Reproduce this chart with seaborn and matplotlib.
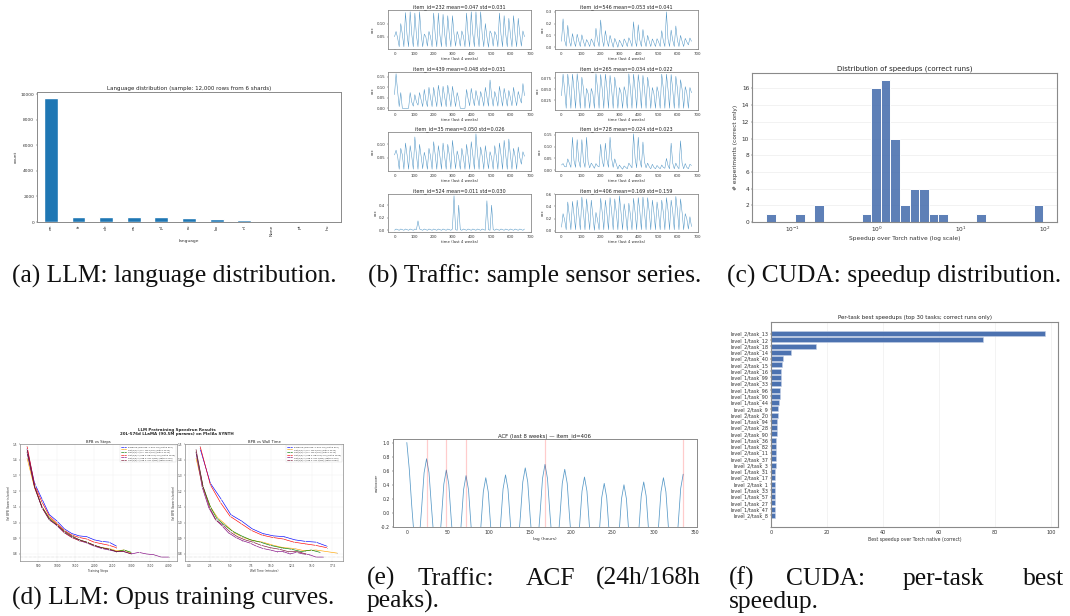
import numpy as np
import pandas as pd
import matplotlib
matplotlib.use('Agg')
import matplotlib.pyplot as plt
import seaborn as sns

W, H = 1070, 616
BAR_BLUE = '#1f77b4'
DEEP_BLUE = '#4c72b0'
SPINE = '#8a8a8a'
SERIF = 'Liberation Serif'

# (a) language distribution
languages = ['en', 'fr', 'de', 'es', 'pl', 'ru', 'ko', 'nl', 'None', 'pt', 'hu']
lang_counts = [9680, 420, 410, 360, 355, 340, 200, 170, 5, 4, 3]

# (b) sensor series: three readings per day for the last 4 weeks
sensor_titles = ['item_id=232 mean=0.047 std=0.031', 'item_id=546 mean=0.053 std=0.041',
                 'item_id=439 mean=0.048 std=0.031', 'item_id=265 mean=0.034 std=0.022',
                 'item_id=35 mean=0.050 std=0.026', 'item_id=728 mean=0.024 std=0.023',
                 'item_id=524 mean=0.011 std=0.030', 'item_id=406 mean=0.169 std=0.159']
sensor_232 = [0.050, 0.070, 0.045, 0.012, 0.100, 0.060, 0.012, 0.142, 0.058, 0.012, 0.145, 0.060,
              0.012, 0.140, 0.055, 0.012, 0.145, 0.060, 0.012, 0.060, 0.050, 0.014, 0.070, 0.050,
              0.012, 0.140, 0.058, 0.012, 0.140, 0.056, 0.012, 0.135, 0.062, 0.012, 0.130, 0.058,
              0.012, 0.130, 0.060, 0.014, 0.070, 0.050, 0.014, 0.072, 0.052, 0.012, 0.140, 0.058,
              0.012, 0.145, 0.060, 0.012, 0.145, 0.062, 0.012, 0.145, 0.058, 0.012, 0.100, 0.050,
              0.010, 0.072, 0.060, 0.014, 0.070, 0.055, 0.012, 0.140, 0.058, 0.012, 0.130, 0.060,
              0.012, 0.120, 0.058, 0.012, 0.130, 0.056, 0.012, 0.120, 0.060, 0.014, 0.072, 0.050]
sensor_546 = [0.050, 0.240, 0.060, 0.008, 0.185, 0.055, 0.008, 0.115, 0.050, 0.006, 0.110, 0.055,
              0.006, 0.105, 0.050, 0.006, 0.065, 0.040, 0.006, 0.070, 0.045, 0.006, 0.160, 0.060,
              0.006, 0.230, 0.070, 0.006, 0.140, 0.060, 0.006, 0.100, 0.050, 0.000, 0.075, 0.040,
              0.000, 0.060, 0.035, 0.004, 0.070, 0.045, 0.006, 0.080, 0.050, 0.006, 0.215, 0.060,
              0.006, 0.190, 0.060, 0.006, 0.150, 0.055, 0.006, 0.100, 0.050, 0.006, 0.070, 0.040,
              0.006, 0.072, 0.045, 0.006, 0.140, 0.055, 0.006, 0.300, 0.070, 0.006, 0.145, 0.060,
              0.006, 0.180, 0.060, 0.006, 0.100, 0.050, 0.006, 0.075, 0.045, 0.020, 0.078, 0.050]
sensor_439 = [0.065, 0.165, 0.080, 0.008, 0.075, 0.000, 0.000, 0.000, 0.000, 0.000, 0.075, 0.030,
              0.010, 0.065, 0.030, 0.015, 0.075, 0.040, 0.008, 0.090, 0.040, 0.008, 0.100, 0.050,
              0.008, 0.100, 0.050, 0.008, 0.110, 0.060, 0.008, 0.105, 0.055, 0.008, 0.110, 0.060,
              0.008, 0.105, 0.055, 0.008, 0.075, 0.045, 0.000, 0.000, 0.000, 0.000, 0.090, 0.045,
              0.012, 0.095, 0.050, 0.012, 0.085, 0.050, 0.012, 0.080, 0.050, 0.010, 0.100, 0.055,
              0.010, 0.135, 0.060, 0.010, 0.080, 0.050, 0.010, 0.105, 0.055, 0.010, 0.095, 0.055,
              0.010, 0.085, 0.050, 0.012, 0.100, 0.050, 0.012, 0.080, 0.050, 0.025, 0.118, 0.060]
sensor_265 = [0.035, 0.085, 0.048, 0.006, 0.085, 0.052, 0.006, 0.085, 0.050, 0.006, 0.086, 0.054,
              0.006, 0.078, 0.052, 0.006, 0.052, 0.040, 0.006, 0.052, 0.040, 0.006, 0.086, 0.052,
              0.006, 0.084, 0.050, 0.006, 0.085, 0.054, 0.006, 0.082, 0.050, 0.006, 0.078, 0.050,
              0.006, 0.054, 0.042, 0.006, 0.056, 0.042, 0.006, 0.086, 0.052, 0.006, 0.085, 0.050,
              0.006, 0.084, 0.054, 0.006, 0.082, 0.050, 0.006, 0.078, 0.052, 0.006, 0.054, 0.040,
              0.006, 0.056, 0.040, 0.006, 0.085, 0.052, 0.006, 0.085, 0.050, 0.006, 0.084, 0.050,
              0.006, 0.080, 0.052, 0.006, 0.072, 0.050, 0.006, 0.056, 0.042, 0.006, 0.054, 0.042]
sensor_35 = [0.060, 0.078, 0.055, 0.006, 0.085, 0.060, 0.006, 0.105, 0.060, 0.006, 0.095, 0.055,
             0.006, 0.128, 0.060, 0.006, 0.100, 0.055, 0.008, 0.070, 0.045, 0.006, 0.085, 0.055,
             0.006, 0.110, 0.060, 0.006, 0.095, 0.055, 0.006, 0.105, 0.055, 0.006, 0.100, 0.060,
             0.006, 0.115, 0.060, 0.008, 0.075, 0.050, 0.006, 0.085, 0.050, 0.006, 0.100, 0.055,
             0.006, 0.110, 0.060, 0.006, 0.140, 0.065, 0.006, 0.090, 0.055, 0.006, 0.095, 0.050,
             0.008, 0.072, 0.050, 0.006, 0.095, 0.055, 0.006, 0.105, 0.060, 0.006, 0.115, 0.060,
             0.006, 0.120, 0.060, 0.006, 0.085, 0.055, 0.006, 0.090, 0.050, 0.025, 0.072, 0.055]
sensor_728 = [0.022, 0.028, 0.015, 0.014, 0.048, 0.030, 0.012, 0.140, 0.040, 0.012, 0.130, 0.040,
              0.012, 0.130, 0.040, 0.012, 0.140, 0.035, 0.010, 0.030, 0.020, 0.008, 0.028, 0.018,
              0.014, 0.110, 0.040, 0.014, 0.115, 0.045, 0.012, 0.140, 0.050, 0.012, 0.048, 0.025,
              0.005, 0.022, 0.012, 0.004, 0.018, 0.012, 0.006, 0.030, 0.020, 0.010, 0.155, 0.050,
              0.010, 0.140, 0.045, 0.012, 0.120, 0.035, 0.010, 0.030, 0.015, 0.006, 0.025, 0.012,
              0.006, 0.020, 0.012, 0.006, 0.022, 0.012, 0.008, 0.050, 0.020, 0.006, 0.115, 0.030,
              0.006, 0.030, 0.015, 0.006, 0.125, 0.030, 0.006, 0.028, 0.012, 0.006, 0.025, 0.020]
sensor_524 = [0.000, 0.020, 0.010, 0.000, 0.020, 0.010, 0.000, 0.020, 0.010, 0.000, 0.020, 0.010,
              0.000, 0.020, 0.010, 0.150, 0.020, 0.010, 0.000, 0.020, 0.010, 0.000, 0.020, 0.010,
              0.000, 0.020, 0.010, 0.000, 0.020, 0.010, 0.000, 0.020, 0.010, 0.000, 0.020, 0.010,
              0.000, 0.020, 0.550, 0.010, 0.000, 0.400, 0.010, 0.000, 0.020, 0.010, 0.000, 0.020,
              0.010, 0.000, 0.020, 0.010, 0.000, 0.020, 0.010, 0.000, 0.020, 0.010, 0.000, 0.470,
              0.010, 0.000, 0.400, 0.010, 0.000, 0.020, 0.010, 0.000, 0.020, 0.010, 0.000, 0.020,
              0.010, 0.000, 0.020, 0.010, 0.000, 0.020, 0.010, 0.000, 0.020, 0.010, 0.000, 0.020]
sensor_406 = [0.060, 0.280, 0.180, 0.020, 0.470, 0.250, 0.020, 0.480, 0.260, 0.020, 0.500, 0.280,
              0.020, 0.550, 0.300, 0.020, 0.520, 0.280, 0.020, 0.500, 0.260, 0.010, 0.300, 0.180,
              0.020, 0.530, 0.300, 0.020, 0.500, 0.280, 0.020, 0.540, 0.320, 0.020, 0.520, 0.300,
              0.020, 0.570, 0.300, 0.020, 0.440, 0.260, 0.010, 0.450, 0.260, 0.020, 0.530, 0.300,
              0.020, 0.540, 0.320, 0.020, 0.550, 0.300, 0.020, 0.540, 0.320, 0.020, 0.500, 0.300,
              0.020, 0.470, 0.280, 0.020, 0.500, 0.300, 0.020, 0.540, 0.340, 0.020, 0.500, 0.320,
              0.020, 0.560, 0.340, 0.020, 0.520, 0.300, 0.020, 0.280, 0.200, 0.030, 0.230, 0.070]
sensor_series = [sensor_232, sensor_546, sensor_439, sensor_265,
                 sensor_35, sensor_728, sensor_524, sensor_406]
sensor_yticks = [[0.05, 0.10], [0.0, 0.1, 0.2, 0.3], [0.00, 0.05, 0.10, 0.15],
                 [0.025, 0.050, 0.075], [0.05, 0.10], [0.00, 0.05, 0.10, 0.15],
                 [0.0, 0.2, 0.4], [0.0, 0.2, 0.4, 0.6]]
sensor_fmt = ['%.2f', '%.1f', '%.2f', '%.3f', '%.2f', '%.2f', '%.1f', '%.1f']

# (c) histogram of speedups, counts per log bin
speedup_counts = [1, 0, 0, 1, 0, 2, 0, 0, 0, 0, 1, 16, 17, 10, 2, 4, 4, 1, 1,
                  0, 0, 0, 1, 0, 0, 0, 0, 0, 2]

# (d) training curves
steps = [200, 400, 600, 800, 1000, 1200, 1400, 1600, 1800, 2000, 2200, 2400, 2600,
         2800, 3000, 3200, 3400, 3600, 3800, 4000]
run_labels = ['Baseline (Ordered, 4, 5e2 Tie) (batch 500)',
              'Opt(1/1)+ (e 1, cos 1/2m) (batch 4012)',
              'Opt(1/1)+ (e 1, cos 1/2m) (batch 4112)',
              'Opt(1/2)+ (cap 4, 8R4 0.8/1.0) (batch 1800)',
              'Opt(1/2)+ (cap 4, cos 1/6m) (batch 2770)',
              'Opt(1/2)+ (cap 4, cos 1/6m) (batch 2500)']
run_colors = ['blue', 'orange', 'green', 'red', 'purple', '#7a1030']
bpb_baseline = [1.470, 1.250, 1.150, 1.050, 1.010, 0.960, 0.930, 0.915, 0.910, 0.890, 0.880, 0.875, 0.850]
bpb_orange = [1.410, 1.220, 1.100, 1.030, 0.990, 0.935, 0.905, 0.885, 0.875, 0.855, 0.840, 0.835, 0.820, 0.825, 0.805]
bpb_green = [1.450, 1.230, 1.100, 1.025, 0.985, 0.945, 0.915, 0.890, 0.875, 0.855, 0.840, 0.830, 0.815, 0.825, 0.810]
bpb_red = [1.485, 1.240, 1.130, 1.040, 0.995, 0.950, 0.920, 0.905, 0.895, 0.875, 0.865, 0.855, 0.840]
bpb_purple = [1.445, 1.225, 1.095, 1.020, 0.980, 0.935, 0.905, 0.885, 0.870, 0.850, 0.835, 0.825, 0.815, 0.815,
              0.800, 0.810, 0.800, 0.795, 0.780, 0.780]
bpb_brown = [1.465, 1.230, 1.095, 1.015, 0.985, 0.940, 0.910, 0.890, 0.875, 0.855, 0.840, 0.830, 0.815, 0.815, 0.800]
run_bpb = [bpb_baseline, bpb_orange, bpb_green, bpb_red, bpb_purple, bpb_brown]
wall_baseline = [1.35, 2.6, 3.9, 5.1, 6.4, 7.7, 9.0, 10.3, 11.6, 12.9, 14.2, 15.5, 16.8]
wall_orange = [0.85, 1.7, 2.6, 3.5, 4.4, 5.5, 6.6, 7.8, 9.0, 10.3, 11.5, 12.8, 14.1, 15.5, 18.1]
wall_green = [0.85, 1.7, 2.6, 3.4, 4.3, 5.3, 6.4, 7.5, 8.7, 9.9, 11.2, 12.5, 13.7, 14.9, 16.0]
wall_red = [1.35, 2.6, 3.8, 5.0, 6.3, 7.6, 8.9, 10.2, 11.5, 12.8, 14.1, 15.4, 16.8]
wall_purple = [0.85, 1.6, 2.4, 3.2, 4.0, 4.8, 5.7, 6.5, 7.4, 8.2, 9.0, 9.9, 10.7, 11.5, 12.3, 13.1, 13.9, 14.7, 15.5, 16.4]
wall_brown = [0.85, 1.7, 2.5, 3.3, 4.1, 5.0, 5.9, 6.8, 7.8, 8.8, 9.9, 11.0, 12.1, 13.2, 14.3]
run_wall = [wall_baseline, wall_orange, wall_green, wall_red, wall_purple, wall_brown]

# (e) autocorrelation every 3 hours
acf_values = [1.00, 0.62, 0.10, -0.35, -0.60, -0.40, 0.07, 0.57, 0.77,
              0.57, 0.08, -0.38, -0.70, -0.55, -0.09, 0.41, 0.61,
              0.41, -0.09, -0.55, -0.80, -0.62, -0.17, 0.33, 0.53,
              0.33, -0.17, -0.62, -0.85, -0.65, -0.20, 0.30, 0.50,
              0.30, -0.20, -0.65, -0.85, -0.61, -0.16, 0.34, 0.54,
              0.34, -0.16, -0.61, -0.75, -0.51, -0.06, 0.44, 0.64,
              0.44, -0.06, -0.51, -0.70, -0.46, -0.01, 0.49, 0.69,
              0.49, -0.01, -0.46, -0.75, -0.53, -0.08, 0.42, 0.62,
              0.42, -0.08, -0.53, -0.85, -0.64, -0.19, 0.31, 0.51,
              0.31, -0.19, -0.64, -0.93, -0.73, -0.28, 0.22, 0.42,
              0.22, -0.28, -0.73, -0.95, -0.75, -0.30, 0.20, 0.40,
              0.20, -0.30, -0.75, -0.90, -0.71, -0.26, 0.24, 0.44,
              0.24, -0.26, -0.71, -0.85, -0.65, -0.20, 0.30, 0.50,
              0.30, -0.20, -0.65, -0.80, -0.60, -0.15, 0.35, 0.55]
acf_marks = [24, 48, 72, 168, 336]

# (f) best speedup per task
task_names = ['level_2/task_13', 'level_1/task_12', 'level_2/task_18', 'level_2/task_14', 'level_2/task_40',
              'level_2/task_15', 'level_2/task_16', 'level_1/task_99', 'level_2/task_33', 'level_1/task_96',
              'level_1/task_90', 'level_1/task_44', 'level_2/task_9', 'level_2/task_20', 'level_1/task_94',
              'level_2/task_28', 'level_2/task_90', 'level_1/task_36', 'level_1/task_82', 'level_2/task_11',
              'level_2/task_37', 'level_2/task_3', 'level_1/task_31', 'level_2/task_17', 'level_2/task_1',
              'level_1/task_33', 'level_1/task_57', 'level_1/task_27', 'level_1/task_47', 'level_2/task_8']
task_speedups = [97.6, 75.6, 16.0, 7.0, 4.3, 3.8, 3.6, 3.5, 3.5, 3.1, 3.1, 2.9, 2.6, 2.5, 2.1,
                 2.0, 2.0, 1.9, 1.9, 1.8, 1.8, 1.7, 1.6, 1.5, 1.5, 1.5, 1.4, 1.4, 1.4, 1.3]

sns.set_theme(style='white')
plt.rcParams['font.family'] = ['DejaVu Sans']
fig = plt.figure(figsize=(W / 100, H / 100), dpi=100, facecolor='white')


def panel(left, top, right, bottom, tick=3.0, lw=0.7):
    # axes placed by pixel box of the reference
    ax = fig.add_axes([left / W, 1 - bottom / H, (right - left) / W, (bottom - top) / H])
    for s in ax.spines.values():
        s.set_color(SPINE)
        s.set_linewidth(lw)
    ax.tick_params(labelsize=tick, length=1, width=0.3, pad=1, colors='#333333',
                   bottom=True, left=True)
    return ax


def caption(x, y, text, ha='left'):
    fig.text(x / W, 1 - y / H, text, family=SERIF, fontsize=18.4, color='#111111', ha=ha, va='baseline')


# --- (a) ---
ax = panel(37, 92, 341, 222, tick=3.2)
sns.barplot(x=languages, y=lang_counts, color=BAR_BLUE, saturation=1, width=0.5, ax=ax)
ax.set_xlim(-0.5, 10.5)
ax.set_yticks([0, 2000, 4000, 6000, 8000, 10000])
ax.tick_params(axis='x', labelrotation=90)
ax.set_title('Language distribution (sample: 12,000 rows from 6 shards)', fontsize=4.0, pad=1.5, color='#222222')
ax.set_xlabel('language', fontsize=3.2, labelpad=2, color='#333333')
ax.set_ylabel('count', fontsize=3.2, labelpad=2, color='#333333')

# --- (b) ---
col_x = [(388, 531), (555, 698)]
row_y = [(10, 49), (72, 110), (132, 171), (194, 232)]
hours = np.linspace(0, 671, 84)
for i, values in enumerate(sensor_series):
    left, right = col_x[i % 2]
    top, bottom = row_y[i // 2]
    ax = panel(left, top, right, bottom, tick=2.8, lw=0.6)
    sns.lineplot(x=hours, y=values, color=BAR_BLUE, lw=0.35, alpha=0.8, ax=ax)
    ax.set_xticks(range(0, 701, 100))
    ax.set_xlim(-33.55, 704.55)
    ax.set_yticks(sensor_yticks[i])
    ax.yaxis.set_major_formatter(plt.FormatStrFormatter(sensor_fmt[i]))
    ax.set_title(sensor_titles[i], fontsize=3.5, pad=1.2, color='#222222')
    ax.set_xlabel('time (last 4 weeks)', fontsize=2.8, labelpad=0.8, color='#333333')
    ax.set_ylabel('occ', fontsize=2.8, labelpad=1, color='#333333')

# --- (c) ---
ax = panel(752, 73, 1057, 222, tick=4.2, lw=0.8)
edges = 10 ** (-1.31 + 0.1135 * np.arange(len(speedup_counts) + 1))
centers = np.sqrt(edges[:-1] * edges[1:])
hist_df = pd.DataFrame({'speedup': centers, 'n': speedup_counts})
ax.set_xscale('log')
sns.histplot(hist_df, x='speedup', weights='n', bins=list(np.log10(edges)), color=DEEP_BLUE, alpha=0.9,
             edgecolor='white', linewidth=0.7, ax=ax)
ax.set_xlim(0.033, 140)
ax.set_yticks(range(0, 17, 2))
ax.yaxis.grid(True, color='#f0f0f0', lw=0.6)
ax.set_axisbelow(True)
ax.set_title('Distribution of speedups (correct runs)', fontsize=5.0, pad=2, color='#222222')
ax.set_xlabel('Speedup over Torch native (log scale)', fontsize=4.2, labelpad=1.5, color='#333333')
ax.set_ylabel('# experiments (correct only)', fontsize=4.2, labelpad=3, color='#333333')

# --- (d) ---
fig.text(177 / W, 1 - 432 / H, 'LLM Pretraining Speedrun Results\n20L-576d LLaMA (90.5M params) on PleIAs SYNTH',
         fontsize=2.9, fontweight='bold', ha='center', va='center', linespacing=1.1)
ax_steps = panel(20, 444, 177, 561, tick=2.1, lw=0.5)
ax_wall = panel(185, 444, 343, 561, tick=2.1, lw=0.5)
for label, color, bpb, wall in zip(run_labels, run_colors, run_bpb, run_wall):
    for target, xs in ((ax_steps, steps[:len(bpb)]), (ax_wall, wall)):
        sns.lineplot(x=xs, y=bpb, color=color, lw=0.45, marker='o', markersize=0.7,
                     markerfacecolor='black', markeredgewidth=0, label=label, ax=target)
for ax, title, xlabel in ((ax_steps, 'BPB vs Steps', 'Training Steps'),
                          (ax_wall, 'BPB vs Wall Time', 'Wall Time (minutes)')):
    ax.axhline(0.78, color='#aaaaaa', lw=0.35, ls=':')
    ax.set_ylim(0.755, 1.5)
    ax.set_yticks([0.8, 0.9, 1.0, 1.1, 1.2, 1.3, 1.4, 1.5])
    ax.grid(True, color='#eeeeee', lw=0.3)
    ax.set_title(title, fontsize=2.7, pad=1, color='#222222')
    ax.set_xlabel(xlabel, fontsize=2.1, labelpad=0.8, color='#333333')
    ax.set_ylabel('Val BPB (lower is better)', fontsize=2.1, labelpad=1, color='#333333')
    ax.legend(fontsize=1.5, loc='upper right', frameon=True, borderpad=0.4, labelspacing=0.35,
              handlelength=2.5, edgecolor='#cccccc', fancybox=False, framealpha=1).get_frame().set_linewidth(0.2)
ax_steps.set_xlim(10, 4225)
ax_steps.set_xticks(range(500, 4001, 500))
ax_wall.set_xlim(-0.5, 18.8)
ax_wall.set_xticks([0, 2.5, 5, 7.5, 10, 12.5, 15, 17.5])
ax_wall.xaxis.set_major_formatter(plt.FormatStrFormatter('%.1f'))

# --- (e) ---
ax = panel(393, 439, 697, 527, tick=3.3)
lags = np.arange(len(acf_values)) * 3
sns.lineplot(x=lags, y=acf_values, color=BAR_BLUE, lw=0.55, alpha=0.75, ax=ax)
for lag in acf_marks:
    ax.axvline(lag, color='red', alpha=0.2, lw=0.9)
ax.set_xlim(-16.8, 352.8)
ax.set_ylim(-0.2, 1.05)
ax.set_xticks(range(0, 351, 50))
ax.yaxis.set_major_formatter(plt.FormatStrFormatter('%.1f'))
ax.set_yticks([-0.2, 0.0, 0.2, 0.4, 0.6, 0.8, 1.0])
ax.set_title('ACF (last 8 weeks) — item_id=406', fontsize=3.9, pad=1.5, color='#222222')
ax.set_xlabel('lag (hours)', fontsize=3.2, labelpad=1.5, color='#333333')
ax.set_ylabel('autocorr', fontsize=3.2, labelpad=1.5, color='#333333')

# --- (f) ---
ax = panel(771, 322, 1058, 527, tick=3.5, lw=0.8)
sns.barplot(x=task_speedups, y=task_names, orient='h', color=DEEP_BLUE, saturation=1, width=0.8,
            edgecolor='#c5d0e6', linewidth=0.4, ax=ax)
ax.set_xlim(0, 102.4)
ax.set_ylim(30.85, -1.85)
ax.set_xticks(range(0, 101, 20))
ax.xaxis.grid(True, color='#eeeeee', lw=0.5)
ax.set_axisbelow(True)
ax.set_title('Per-task best speedups (top 30 tasks; correct runs only)', fontsize=4.0, pad=2, color='#222222')
ax.set_xlabel('Best speedup over Torch native (correct)', fontsize=3.3, labelpad=1.5, color='#333333')
ax.set_ylabel('')

# captions, wrapped lines are justified in the source so words sit apart
caption(12, 283, '(a) LLM: language distribution.')
caption(368, 283, '(b) Traffic: sample sensor series.')
caption(727, 283, '(c) CUDA: speedup distribution.')
caption(12, 605, '(d) LLM: Opus training curves.')
for x, word in ((367, '(e)'), (417, 'Traffic:'), (526, 'ACF'), (596, '(24h/168h')):
    caption(x, 585, word)
caption(367, 608, 'peaks).')
for x, word in ((729, '(f)'), (786, 'CUDA:'), (903, 'per-task'), (1023, 'best')):
    caption(x, 585, word)
caption(729, 608, 'speedup.')

fig.savefig('out.png', dpi=100)
